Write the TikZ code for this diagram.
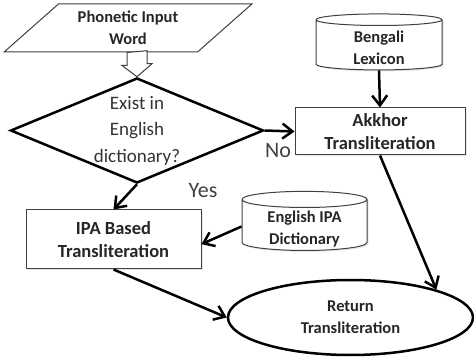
\documentclass[tikz,border=0pt]{standalone}
\usepackage{fontspec}
\setmainfont{Carlito}
\usetikzlibrary{shapes.geometric, arrows.meta, calc, shadows}
\newcommand{\boxFont}{\fontsize{18.5}{23}\selectfont\bfseries}
\newcommand{\storeFont}{\fontsize{16.5}{22}\selectfont\bfseries}
\newcommand{\askFont}{\fontsize{19}{26.5}\selectfont}
\newcommand{\answerFont}{\fontsize{22}{26}\selectfont}
\tikzstyle{thinBorder}=[draw=black!75, line width=1pt, fill=white]
\tikzstyle{softShadow}=[drop shadow={shadow xshift=1.5pt, shadow yshift=-1.5pt, opacity=0.2}]
\tikzstyle{inputBox}=[thinBorder, trapezium, trapezium left angle=44, trapezium right angle=136, trapezium stretches=true, minimum width=248pt, minimum height=48pt, align=center, font=\storeFont, text=black!85]
\tikzstyle{question}=[diamond, draw, line width=2.5pt, aspect=2.4, inner sep=0pt, minimum width=253pt, minimum height=105pt, align=center, font=\askFont, text=black!80]
\tikzstyle{process}=[thinBorder, softShadow, rectangle, align=center, font=\boxFont, text=black!85]
\tikzstyle{store}=[thinBorder, softShadow, cylinder, shape border rotate=90, aspect=0.2, inner ysep=0pt, align=center, font=\storeFont, text=black!85, text height=37pt, text depth=0pt]
\tikzstyle{result}=[ellipse, draw, line width=2.5pt, fill=white, align=center, font=\storeFont, text=black!85]
\tikzstyle{flow}=[-{Straight Barb[length=10pt, width=15pt]}, line width=2.5pt]
\tikzstyle{hollow}=[draw=black!75, line width=1pt, fill=white, line join=miter]
\tikzstyle{answer}=[font=\answerFont, text=black!75]

\begin{document}
\begin{tikzpicture}[x=1pt, y=-1pt]
  \useasboundingbox (0,0) rectangle (474,358);
  % shapes
  \node[inputBox] (input) at (128,28) {Phonetic Input\\Word};
  \node[question] (dict) at (137,130.5) {Exist in\\English\\dictionary?};
  \node[store, minimum width=126pt, minimum height=56pt] (bengali) at (379,46) {Bengali\\Lexicon};
  \node[process, minimum width=170pt, minimum height=47pt] (akkhor) at (380,131.5) {Akkhor\\Transliteration};
  \node[process, minimum width=175pt, minimum height=59pt] (ipa) at (113.5,239.5) {IPA Based\\Transliteration};
  \node[store, minimum width=125pt, minimum height=57pt] (english) at (304.5,226.5) {English IPA\\Dictionary};
  \node[result, minimum width=245pt, minimum height=75pt] (ret) at (350.5,317.5) {Return\\Transliteration};
  % connectors
  \draw[hollow] ($(dict.north |- input.south)+(-10,0)$) -- ++(0,13) -- ++(-5,0)
    -- (dict.north) -- ++(15,-13) -- ++(-5,0) -- ++(0,-13) -- cycle;
  \draw[flow] (dict.east) -- (akkhor.west);
  \node[answer] (no) at (278,151) {No};
  \draw[flow] (dict.south) -- (ipa.north);
  \node[answer] (yes) at (203,191) {Yes};
  \draw[flow] (bengali.south) -- (akkhor.north);
  \draw[flow] (english.west) -- (ipa.-3.5);
  \draw[flow] (ipa.south) -- (ret.west);
  \draw[flow] (akkhor.south) -- (ret.18);
\end{tikzpicture}
\end{document}
